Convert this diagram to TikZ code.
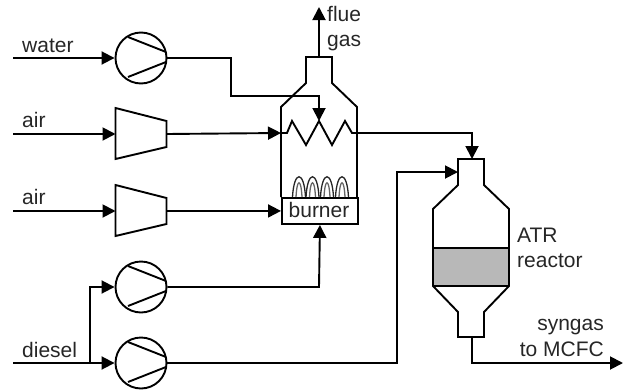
\documentclass[tikz,border=0pt]{standalone}
\usepackage{fontspec}
\setmainfont{Liberation Sans}
\usetikzlibrary{arrows.meta}
\tikzset{
 px/.style={x=1pt,y=-1pt},
 ln/.style={line width=1.9pt,line join=miter},
 flow/.style={ln,-{Triangle[length=13pt,width=13pt]}},
 lab/.style={font=\fontsize{21}{24}\selectfont,text=black!85,inner sep=0pt,anchor=base west},
 pumpc/.style={circle,draw,ln,minimum size=51pt,inner sep=0pt},
 flamey/.style={line width=1.3pt,draw=black!85}
}
\newcommand{\pumpblades}[1]{
 \draw[ln] (#1)++(-13,-21) -- ++(38,15);
 \draw[ln] (#1)++(-13,19) -- ++(38,-15);
}
\newcommand{\compr}[2]{
 \draw[ln] (115.5,#2-26) -- (166.5,#2-13) -- (166.5,#2+13) -- (115.5,#2+25) -- cycle;
 \coordinate (#1in) at (115.5,#2);
 \coordinate (#1out) at (166.5,#2);
}
\newcommand{\flame}[1]{
 \draw[flamey] (#1-6.5,197) .. controls (#1-5,170) and (#1+5,170) .. (#1+6.5,197);
 \draw[flamey,draw=black!60] (#1-3,197) .. controls (#1-2,178) and (#1+2,178) .. (#1+3,197);
}
\begin{document}
\begin{tikzpicture}[px]
\useasboundingbox (0,0) rectangle (626,391);
% sources
\coordinate (water) at (13,58);
\coordinate (air1) at (13,134);
\coordinate (air2) at (13,211);
\coordinate (diesel) at (13,363);
\coordinate (split) at (90,363);
% machines
\node[pumpc] (p1) at (141,58) {};
\node[pumpc] (p2) at (141,287) {};
\node[pumpc] (p3) at (141,363) {};
\pumpblades{p1}\pumpblades{p2}\pumpblades{p3}
\compr{c1}{134}
\compr{c2}{211}
% furnace
\draw[ln] (281,197) -- (281,107) -- (306,83) -- (306,57) -- (332,57) -- (332,83) -- (357,107) -- (357,197);
\node[draw,ln,minimum width=76pt,minimum height=26pt,inner sep=0pt,anchor=north west] (burner) at (281,197) {};
\node[lab,anchor=base] at (319,217) {burner};
\flame{299}\flame{312.5}\flame{327}\flame{342}
\coordinate (cl) at (281,133);
\coordinate (cr) at (357,133);
\draw[ln] (cl) -- (287,133) -- (292,121) -- (306,145) -- (319,121) -- (332,145) -- (345,121) -- (352,133) -- (cr);
\coordinate (ctop) at (319,57);
\coordinate (flue) at (319,7);
\coordinate (coiltip) at (319,121);
% reactor
\fill[black!28] (433,248) rectangle (509,286);
\draw[ln] (458,185) -- (458,159) -- (484,159) -- (484,185) -- (509,209) -- (509,286) -- (484,312) -- (484,337) -- (458,337) -- (458,312) -- (433,286) -- (433,209) -- cycle;
\draw[ln] (433,248) -- (509,248);
\draw[ln] (433,286) -- (509,286);
\coordinate (rtop) at (472,159);
\coordinate (rside) at (458,172);
\coordinate (rbot) at (472,337);
\coordinate (syn) at (623,363);
% connectors
\draw[flow] (water) -- (p1.west);
\draw[flow] (air1) -- (c1in);
\draw[flow] (air2) -- (c2in);
\draw[flow] (diesel) -- (p3.west);
\draw[flow] (split) -- (90,287) -- (p2.west);
\draw[flow] (p1.east) -- (231,58) -- (231,96) -- (319,96) -- (coiltip);
\draw[flow] (c1out) -- (cl);
\draw[flow] (c2out) -- (burner.west);
\draw[flow] (p2.east) -- (319,287) -- (burner.south);
\draw[flow] (ctop) -- (flue);
\draw[flow] (cr) -- (472,133) -- (rtop);
\draw[flow] (p3.east) -- (397,363) -- (397,172) -- (rside);
\draw[flow] (rbot) -- (472,363) -- (syn);
% labels
\node[lab] at (22,52) {water};
\node[lab] at (22,127) {air};
\node[lab] at (22,204) {air};
\node[lab] at (22,357) {diesel};
\node[lab] at (327,21) {flue};
\node[lab] at (327,46) {gas};
\node[lab] at (517,242) {ATR};
\node[lab] at (517,267) {reactor};
\node[lab,anchor=base east] at (604,330) {syngas};
\node[lab,anchor=base east] at (604,356) {to MCFC};
\end{tikzpicture}
\end{document}
